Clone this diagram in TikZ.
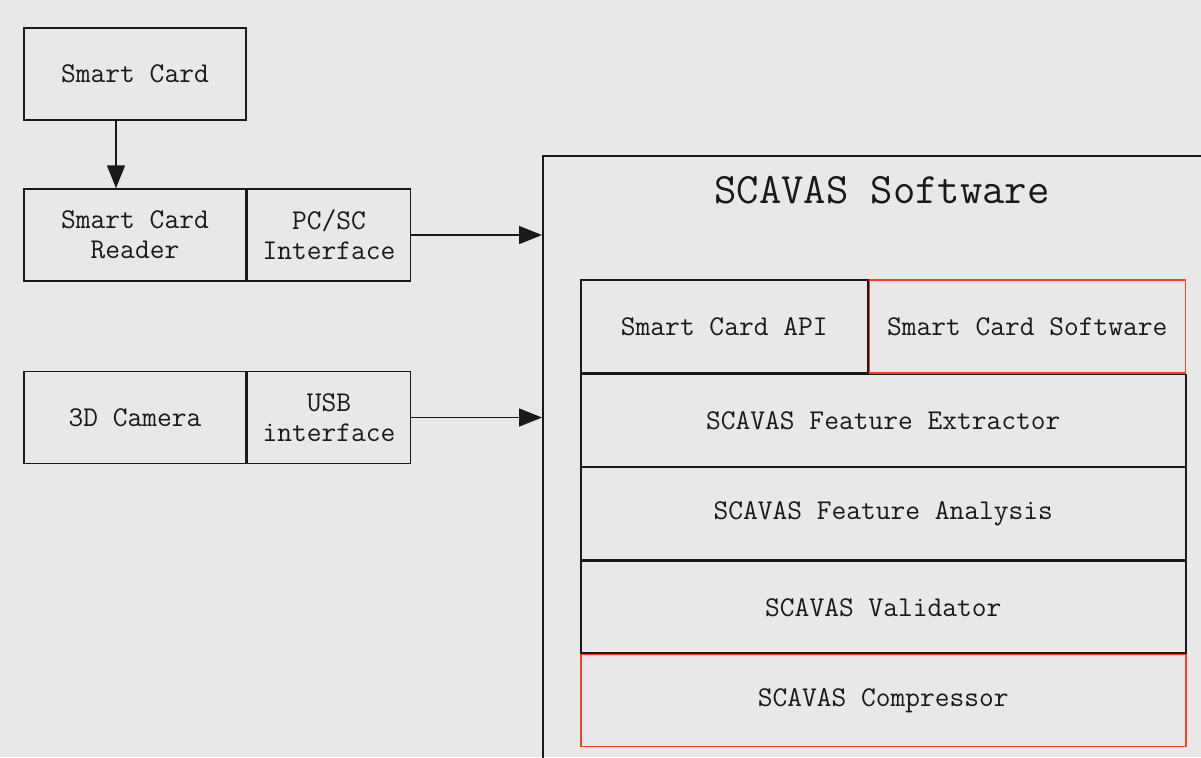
\documentclass[tikz,border=0pt]{standalone}
\usepackage{fontspec}
\usetikzlibrary{positioning}
\usetikzlibrary{arrows.meta}
\definecolor{bgray}{RGB}{232,232,232}
\definecolor{ink}{RGB}{25,25,25}
\definecolor{hired}{RGB}{250,62,40}
\tikzset{
  block/.style={draw=ink,line width=0.85pt,align=center,text=ink,
    font=\ttfamily\fontsize{16.3}{17}\selectfont,inner sep=0pt},
  layer/.style={block,minimum width=12.1cm,minimum height=1.84cm,anchor=north west},
  flag/.style={draw=hired},
  flow/.style={draw=ink,line width=0.85pt,-{Triangle[length=0.46cm,width=0.36cm]}}
}

\begin{document}
\begin{tikzpicture}
    \useasboundingbox (0,0) rectangle (24.02,-15.14);
    \clip (0,0) rectangle (24.02,-15.14);
    \fill[bgray] (0,0) rectangle (24.02,-15.14);

    % devices on the left
    \node[block,minimum width=4.44cm,minimum height=1.84cm] (card) at (2.7,-1.48) {Smart Card};
    \node[block,minimum width=4.44cm,minimum height=1.84cm] (reader) at (2.7,-4.7) {Smart Card\\Reader};
    \node[block,minimum width=3.26cm,minimum height=1.84cm,right=0pt of reader] (pcsc) {PC/SC\\Interface};
    \node[block,minimum width=4.44cm,minimum height=1.84cm] (cam) at (2.7,-8.35) {3D Camera};
    \node[block,minimum width=3.26cm,minimum height=1.84cm,right=0pt of cam] (usb) {USB\\interface};

    % software frame, runs off the page
    \node[block,minimum width=14cm,minimum height=13cm,anchor=north west] (sw) at (10.84,-3.1) {};
    \node[text=ink,font=\ttfamily\fontsize{24.7}{28}\selectfont] (title) at (17.64,-3.8) {SCAVAS Software};

    \node[block,minimum width=5.74cm,minimum height=1.86cm,anchor=north west] (api) at (11.6,-5.58) {Smart Card API};
    \node[layer] (extr) at (api.south west) {SCAVAS Feature Extractor};
    \node[layer] (anal) at (extr.south west) {SCAVAS Feature Analysis};
    \node[layer] (valid) at (anal.south west) {SCAVAS Validator};
    \node[layer,flag] (comp) at (valid.south west) {SCAVAS Compressor};
    \node[block,flag,minimum width=6.32cm,minimum height=1.86cm,right=0pt of api] (scsw) {Smart Card Software};

    \draw[flow] ([xshift=-0.38cm]card.south) -- ([xshift=-0.38cm]reader.north);
    \draw[flow] (pcsc.east) -- (pcsc.east -| sw.west);
    \draw[flow] (usb.east) -- (usb.east -| sw.west);
\end{tikzpicture}
\end{document}
